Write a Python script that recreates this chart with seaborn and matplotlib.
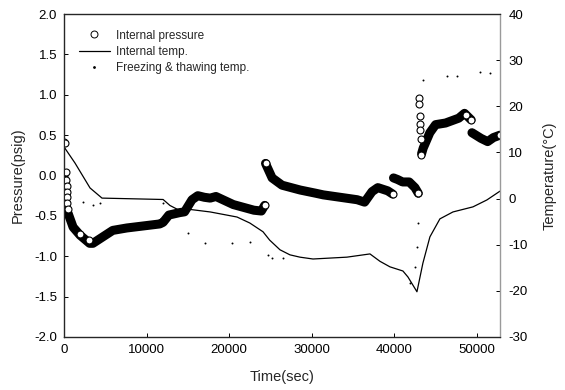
import matplotlib
matplotlib.use("Agg")
import matplotlib.pyplot as plt
from matplotlib.lines import Line2D
import numpy as np
import seaborn as sns

# ---------------- dados ----------------
# pressao interna (faixa densa de circulos), por trecho
p1_t = [500, 1100, 1950, 3100, 3500, 4700, 5900, 7600, 11600, 12000, 12700, 14000,
        14600, 15500, 16200, 17000, 17700, 18400, 20500, 23000, 23900, 24300]
p1_p = [-0.47, -0.64, -0.74, -0.84, -0.84, -0.76, -0.68, -0.65, -0.60, -0.58, -0.49, -0.46,
        -0.45, -0.30, -0.25, -0.27, -0.28, -0.26, -0.36, -0.43, -0.44, -0.37]
p2_t = [24400, 25200, 26400, 28600, 30500, 31400, 35500, 36400, 37300, 38000, 39200, 39800]
p2_p = [0.15, -0.03, -0.12, -0.18, -0.22, -0.24, -0.30, -0.33, -0.20, -0.15, -0.19, -0.23]
p3_t = [39900, 40400, 41000, 41800, 42500, 42900]
p3_p = [-0.03, -0.05, -0.08, -0.08, -0.15, -0.22]
p4_t = [43300, 43500, 44300, 45000, 46200, 47800, 48500, 49300]
p4_p = [0.27, 0.34, 0.53, 0.63, 0.65, 0.71, 0.77, 0.69]
p5_t = [49400, 50500, 51300, 52000, 52800]
p5_p = [0.53, 0.46, 0.42, 0.47, 0.50]

# circulos isolados (quedas rapidas e fins de trecho)
pc_t = [0, 100, 250, 300, 330, 360, 390, 420, 450, 1900, 3000, 24300, 24400,
        39800, 42900, 42950, 43000, 43050, 43100, 43150, 43200, 43250,
        48700, 49300, 52800]
pc_p = [0.42, 0.40, 0.04, -0.06, -0.13, -0.20, -0.27, -0.34, -0.41, -0.72, -0.80, -0.37, 0.15,
        -0.23, -0.22, 0.96, 0.88, 0.74, 0.64, 0.56, 0.45, 0.25,
        0.75, 0.69, 0.50]

# temperatura interna
temp_t = [0, 1330, 3150, 4600, 12000, 12830, 13800, 15000, 17700, 20950, 22500, 24100,
          24900, 26150, 27360, 28570, 30150, 34260, 37050, 38260, 39470, 41040, 41650,
          42740, 43460, 44310, 45520, 47100, 49520, 51210, 52790]
temp_T = [11.2, 7.7, 2.3, 0.1, -0.2, -1.5, -2.4, -2.3, -2.9, -4.0, -5.3, -7.2,
          -9.0, -11.1, -12.2, -12.7, -13.1, -12.7, -12.0, -13.6, -14.8, -15.7, -17.0,
          -20.2, -14.0, -8.3, -4.4, -2.9, -1.8, -0.3, 1.6]

# temperatura de congelamento e descongelamento (pontos)
ft_t = [2300, 3500, 4360, 12000, 15000, 17070, 20340, 22500, 24700, 25180, 26500,
        41900, 42500, 42740, 42860, 43460, 46370, 47580, 50370, 51580]
ft_T = [-0.7, -1.4, -1.0, -1.0, -7.5, -9.6, -9.6, -9.4, -12.2, -12.9, -12.9,
        -18.3, -14.8, -10.5, -5.3, 25.7, 26.6, 26.6, 27.4, 27.2]

# ---------------- grafico ----------------
sns.set_style("ticks")
plt.rcParams["font.family"] = ["Liberation Sans", "DejaVu Sans"]
plt.rcParams["axes.unicode_minus"] = False

fig = plt.figure(figsize=(5.65, 3.9), dpi=100)
ax = fig.add_axes([0.1133, 0.136, 0.7717, 0.828])
ax2 = ax.twinx()

for tt, pp in [(p1_t, p1_p), (p2_t, p2_p), (p3_t, p3_p), (p4_t, p4_p), (p5_t, p5_p)]:
    sns.lineplot(x=tt, y=pp, ax=ax, color="black", linewidth=6.5, sort=False,
                 estimator=None, solid_capstyle="round", solid_joinstyle="round")
ax.plot(pc_t, pc_p, linestyle="none", marker="o", markersize=5,
        markerfacecolor="white", markeredgecolor="black", markeredgewidth=0.8, zorder=5)

sns.lineplot(x=temp_t, y=temp_T, ax=ax2, color="black", linewidth=0.9,
             sort=False, estimator=None)
sns.scatterplot(x=ft_t, y=ft_T, ax=ax2, color="black", s=2, linewidth=0)

ax.set_xlim(0, 52800)
ax.set_ylim(-2.0, 2.0)
ax.set_yticks(np.arange(-2.0, 2.01, 0.5))
ax.set_yticklabels([f"{v:.1f}" for v in np.arange(-2.0, 2.01, 0.5)])
ax.set_xticks([0, 10000, 20000, 30000, 40000, 50000])
ax2.set_ylim(-30, 40)
ax2.set_yticks(range(-30, 41, 10))

for a in (ax, ax2):
    a.tick_params(direction="in", length=3, width=0.7, labelsize=9.5, colors="black")
ax.tick_params(axis="x", pad=5)
ax.tick_params(axis="y", pad=5)
ax2.tick_params(axis="y", pad=6)

for s in ["left", "bottom", "top"]:
    ax.spines[s].set_visible(True)
    ax.spines[s].set_linewidth(0.9)
    ax.spines[s].set_color("black")
ax2.spines["right"].set_visible(True)
ax2.spines["right"].set_color("#9a9a9a")
ax2.spines["right"].set_linewidth(1.0)
ax.spines["right"].set_visible(False)

ax.set_xlabel("Time(sec)", fontsize=10.5, labelpad=10)
ax.set_ylabel("Pressure(psig)", fontsize=10.5, labelpad=7)
ax2.set_ylabel("Temperature(°C)", fontsize=10.5, labelpad=11)

handles = [
    Line2D([], [], linestyle="none", marker="o", markersize=5,
           markerfacecolor="white", markeredgecolor="black", markeredgewidth=0.7),
    Line2D([], [], color="black", linewidth=0.9),
    Line2D([], [], linestyle="none", marker="o", markersize=1, color="black"),
]
ax.legend(handles, ["Internal pressure", "Internal temp.", "Freezing & thawing temp."],
          loc="upper left", bbox_to_anchor=(0.01, 0.985), frameon=False,
          fontsize=8.5, handlelength=2.6, handletextpad=0.5, labelspacing=0.35)

fig.savefig("out.png", dpi=100)
